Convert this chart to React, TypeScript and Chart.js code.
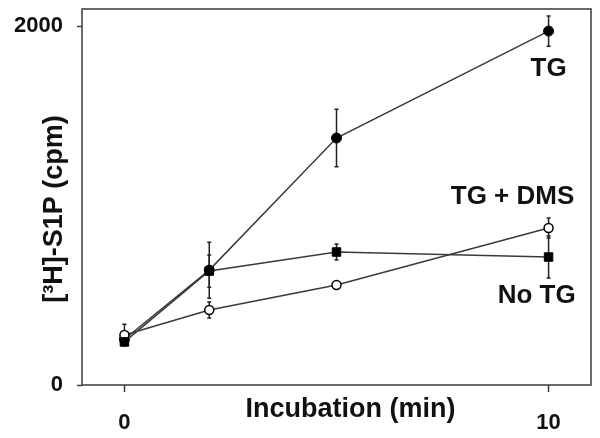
import React, { useEffect, useRef } from "react";
import { Chart, registerables } from "chart.js";

Chart.register(...registerables);

const times = [0, 2, 5, 10];
const tgValues = [255, 640, 1376, 1972];
const tgErrors = [30, 156, 160, 84];
const tgDmsValues = [279, 418, 557, 875];
const tgDmsErrors = [60, 45, 15, 56];
const noTgValues = [240, 635, 741, 713];
const noTgErrors = [20, 90, 45, 117];
const xTicks = [0, 10];
const yTicks = [0, 2000];
const xTitle = "Incubation (min)";
const yTitle = "[³H]-S1P (cpm)";
const seriesLabels = [
  { text: "TG", x: 10.0, y: 1760 },
  { text: "TG + DMS", x: 9.15, y: 1047 },
  { text: "No TG", x: 9.72, y: 496 },
];

const FONT = '"Liberation Sans", Arial, Helvetica, sans-serif';
const INK = "#111";
const LINE = "#3a3a3a";

const toPoints = (vals: number[]) => times.map((t, i) => ({ x: t, y: vals[i] }));

export default function App() {
  const ref = useRef<HTMLCanvasElement | null>(null);

  useEffect(() => {
    if (!ref.current) return;
    const errorSets = [noTgErrors, tgDmsErrors, tgErrors];

    const plugin = {
      id: "custom",
      beforeDatasetsDraw(chart: any) {
        const { ctx, scales } = chart;
        const x = scales.x;
        const y = scales.y;
        ctx.save();
        ctx.strokeStyle = "#222";
        ctx.lineWidth = 1.5;
        chart.data.datasets.forEach((ds: any, di: number) => {
          const errs = errorSets[di];
          ds.data.forEach((p: any, i: number) => {
            const px = x.getPixelForValue(p.x);
            const top = y.getPixelForValue(p.y + errs[i]);
            const bot = y.getPixelForValue(p.y - errs[i]);
            ctx.beginPath();
            ctx.moveTo(px, top);
            ctx.lineTo(px, bot);
            ctx.moveTo(px - 2, top);
            ctx.lineTo(px + 2, top);
            ctx.moveTo(px - 2, bot);
            ctx.lineTo(px + 2, bot);
            ctx.stroke();
          });
        });
        ctx.restore();
      },
      afterDraw(chart: any) {
        const { ctx, chartArea, scales } = chart;
        const x = scales.x;
        const y = scales.y;
        ctx.save();
        ctx.strokeStyle = LINE;
        ctx.lineWidth = 1.5;
        ctx.strokeRect(chartArea.left, chartArea.top, chartArea.right - chartArea.left, chartArea.bottom - chartArea.top);
        ctx.fillStyle = INK;
        ctx.textAlign = "center";
        ctx.textBaseline = "middle";
        ctx.font = `bold 26px ${FONT}`;
        seriesLabels.forEach((l) => {
          ctx.fillText(l.text, x.getPixelForValue(l.x), y.getPixelForValue(l.y));
        });
        ctx.font = `bold 27px ${FONT}`;
        ctx.fillText(xTitle, (chartArea.left + chartArea.right) / 2 + 14, chartArea.bottom + 25);
        ctx.translate(55, (chartArea.top + chartArea.bottom) / 2 + 12);
        ctx.rotate(-Math.PI / 2);
        ctx.fillText(yTitle, 0, 0);
        ctx.restore();
      },
    };

    const chart = new Chart(ref.current, {
      type: "line",
      data: {
        datasets: [
          {
            label: "No TG",
            data: toPoints(noTgValues),
            borderColor: LINE,
            borderWidth: 1.5,
            pointStyle: "rect",
            pointRadius: 6,
            pointBackgroundColor: "#000",
            pointBorderColor: "#000",
            pointBorderWidth: 1,
          },
          {
            label: "TG + DMS",
            data: toPoints(tgDmsValues),
            borderColor: LINE,
            borderWidth: 1.5,
            pointStyle: "circle",
            pointRadius: 4.5,
            pointBackgroundColor: "#fff",
            pointBorderColor: "#000",
            pointBorderWidth: 1.5,
          },
          {
            label: "TG",
            data: toPoints(tgValues),
            borderColor: LINE,
            borderWidth: 1.5,
            pointStyle: "circle",
            pointRadius: 5,
            pointBackgroundColor: "#000",
            pointBorderColor: "#000",
            pointBorderWidth: 1,
          },
        ],
      },
      options: {
        responsive: false,
        animation: false,
        events: [],
        layout: { padding: { left: 0, top: 9, right: 9, bottom: 0 } },
        plugins: { legend: { display: false }, tooltip: { enabled: false } },
        scales: {
          x: {
            type: "linear",
            min: -1,
            max: 11,
            afterBuildTicks: (s: any) => {
              s.ticks = xTicks.map((v) => ({ value: v }));
            },
            afterFit: (s: any) => {
              s.height = 53;
              s.paddingLeft = 0;
              s.paddingRight = 0;
            },
            grid: {
              drawOnChartArea: false,
              drawTicks: true,
              tickLength: 7,
              tickColor: LINE,
              tickWidth: 1.5,
            },
            border: { display: false },
            ticks: {
              color: INK,
              font: { family: FONT, size: 22, weight: "bold" },
              padding: 18,
              maxRotation: 0,
              autoSkip: false,
              callback: (v: any) => String(v),
            },
          },
          y: {
            type: "linear",
            min: 0,
            max: 2095,
            afterBuildTicks: (s: any) => {
              s.ticks = yTicks.map((v) => ({ value: v }));
            },
            afterFit: (s: any) => {
              s.width = 82;
              s.paddingTop = 0;
              s.paddingBottom = 0;
            },
            grid: {
              drawOnChartArea: false,
              drawTicks: true,
              tickLength: 5,
              tickColor: LINE,
              tickWidth: 1.5,
            },
            border: { display: false },
            ticks: {
              color: INK,
              font: { family: FONT, size: 22, weight: "bold" },
              padding: 14,
              autoSkip: false,
              callback: (v: any) => String(v),
            },
          },
        },
      },
      plugins: [plugin],
    } as any);

    return () => chart.destroy();
  }, []);

  return (
    <div style={{ position: "absolute", left: 0, top: 0, width: 600, height: 438, background: "#fff" }}>
      <canvas ref={ref} width={600} height={438} style={{ display: "block" }} />
    </div>
  );
}
